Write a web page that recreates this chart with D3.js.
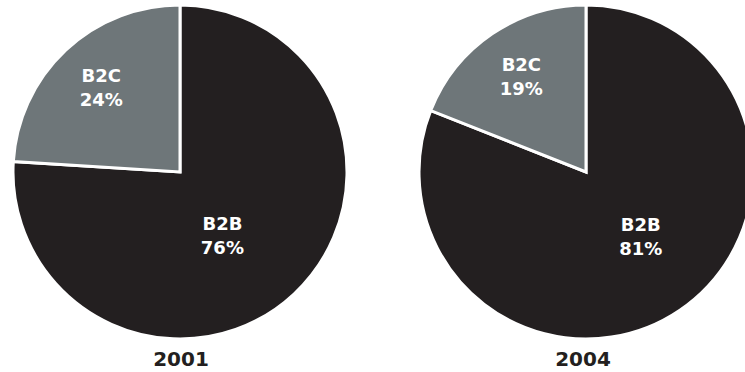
<!DOCTYPE html>
<html><head><meta charset="utf-8">
<script src="https://cdn.jsdelivr.net/npm/d3@7"></script>
<style>html,body{margin:0;padding:0;background:#fff;overflow:hidden}</style>
</head><body>
<svg id="c" width="745" height="372"></svg>
<script>
const categories = ["B2B", "B2C"];
const years = ["2001", "2004"];
const values2001 = [76, 24];
const values2004 = [81, 19];
const colors = ["#231f20", "#6e7679"];

const svg = d3.select("#c");
const centers = [[180, 172], [586, 172]];
const radius = 167;
const series = [values2001, values2004];
// small per-pie nudges of the big-slice label (hand-placed in original)
const b2bNudge = [[-11, 7], [11, 0]];

const pie = d3.pie().sort(null).value(d => d.v);
const arc = d3.arc().innerRadius(0).outerRadius(radius);
const labelArcs = {B2B: d3.arc().innerRadius(78).outerRadius(78), B2C: d3.arc().innerRadius(115).outerRadius(115)};
const font = "DejaVu Sans, sans-serif";

series.forEach((vals, i) => {
  const data = categories.map((c, j) => ({c, v: vals[j], color: colors[j]}));
  const g = svg.append("g").attr("transform", `translate(${centers[i][0]},${centers[i][1]})`);
  const arcs = pie(data);
  g.selectAll("path").data(arcs).join("path")
    .attr("d", arc)
    .attr("fill", d => d.data.color)
    .attr("stroke", "#fff")
    .attr("stroke-width", 3)
    .attr("stroke-linejoin", "miter");
  const lbl = g.selectAll("g.lbl").data(arcs).join("g").attr("class", "lbl")
    .attr("transform", d => {
      const p = labelArcs[d.data.c].centroid(d);
      const n = d.data.c === "B2B" ? b2bNudge[i] : [0, 0];
      return `translate(${p[0] + n[0]},${p[1] + n[1]})`;
    });
  lbl.append("text").attr("text-anchor", "middle").attr("y", -6)
    .attr("fill", "#fff").attr("font-family", font).attr("font-weight", 700)
    .attr("font-size", 18).text(d => d.data.c);
  lbl.append("text").attr("text-anchor", "middle").attr("y", 18)
    .attr("fill", "#fff").attr("font-family", font).attr("font-weight", 700)
    .attr("font-size", 18).text(d => d.data.v + "%");
  svg.append("text").attr("x", centers[i][0] + (i === 0 ? 1 : -3)).attr("y", 366)
    .attr("text-anchor", "middle").attr("fill", "#231f20")
    .attr("font-family", font).attr("font-weight", 700)
    .attr("font-size", 20).text(years[i]);
});
</script>
</body></html>
